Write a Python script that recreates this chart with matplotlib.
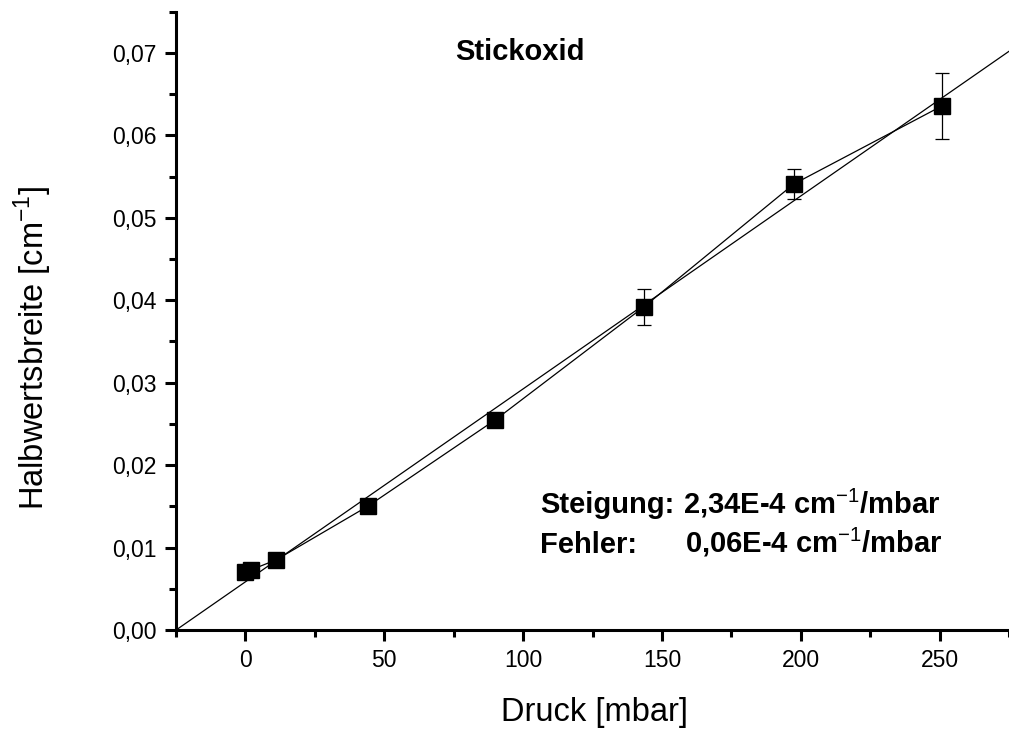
import matplotlib
matplotlib.use('Agg')
import matplotlib.pyplot as plt
from matplotlib.ticker import MultipleLocator, FuncFormatter

plt.rcParams['font.family'] = ['Liberation Sans', 'DejaVu Sans']
plt.rcParams['mathtext.fontset'] = 'custom'
plt.rcParams['mathtext.rm'] = 'Liberation Sans'
plt.rcParams['mathtext.bf'] = 'Liberation Sans:bold'

# Messwerte (Druck in mbar, Halbwertsbreite in cm^-1)
druck = [0, 2, 11, 44, 90, 143.5, 197.5, 251]
halbwertsbreite = [0.0070, 0.0073, 0.0085, 0.0150, 0.0255, 0.0392, 0.0541, 0.0636]
fehler = [0.0005, 0.0005, 0.0004, 0.0004, 0.0004, 0.0022, 0.0018, 0.0040]

# Ausgleichsgerade
fit_x = [-25, 275]
fit_y = [0.0, 0.0702]

fig = plt.figure(figsize=(10.09, 7.33), dpi=100)
ax = fig.add_axes([0.1745, 0.1405, 0.8255, 0.8435])

ax.plot(fit_x, fit_y, color='black', lw=0.9)
ax.errorbar(druck, halbwertsbreite, yerr=fehler, fmt='s-', color='black',
            ms=12, lw=0.9, elinewidth=0.9, capsize=5, capthick=0.9)

ax.set_xlim(-25, 275)
ax.set_ylim(0, 0.075)
ax.xaxis.set_major_locator(MultipleLocator(50))
ax.xaxis.set_minor_locator(MultipleLocator(25))
ax.yaxis.set_major_locator(MultipleLocator(0.01))
ax.yaxis.set_minor_locator(MultipleLocator(0.005))
ax.yaxis.set_major_formatter(FuncFormatter(lambda v, p: f'{v:.2f}'.replace('.', ',')))
ax.xaxis.set_major_formatter(FuncFormatter(lambda v, p: f'{v:.0f}'))

for s in ['top', 'right']:
    ax.spines[s].set_visible(False)
for s in ['left', 'bottom']:
    ax.spines[s].set_linewidth(2.2)
ax.tick_params(which='major', direction='out', length=8, width=2.2, labelsize=16.5, pad=6)
ax.tick_params(which='minor', direction='out', length=5, width=2.2)

ax.set_xlabel('Druck [mbar]', fontsize=23.5)
ax.set_ylabel('Halbwertsbreite [cm$^{-1}$]', fontsize=23.5)
ax.xaxis.set_label_coords(0.502, -0.108)
ax.yaxis.set_label_coords(-0.147, 0.456)

ax.text(0.515, 0.929, 'Stickoxid', transform=fig.transFigure, fontsize=21,
        fontweight='bold', ha='center', va='center')
ax.text(0.5352, 0.300, 'Steigung:', transform=fig.transFigure, fontsize=21,
        fontweight='bold', ha='left', va='baseline')
ax.text(0.677, 0.300, '2,34E-4 cm$^{-1}$/mbar', transform=fig.transFigure,
        fontsize=21, fontweight='bold', ha='left', va='baseline')
ax.text(0.5352, 0.2456, 'Fehler:', transform=fig.transFigure, fontsize=21,
        fontweight='bold', ha='left', va='baseline')
ax.text(0.679, 0.2456, '0,06E-4 cm$^{-1}$/mbar', transform=fig.transFigure,
        fontsize=21, fontweight='bold', ha='left', va='baseline')

fig.savefig('out.png', dpi=100)
